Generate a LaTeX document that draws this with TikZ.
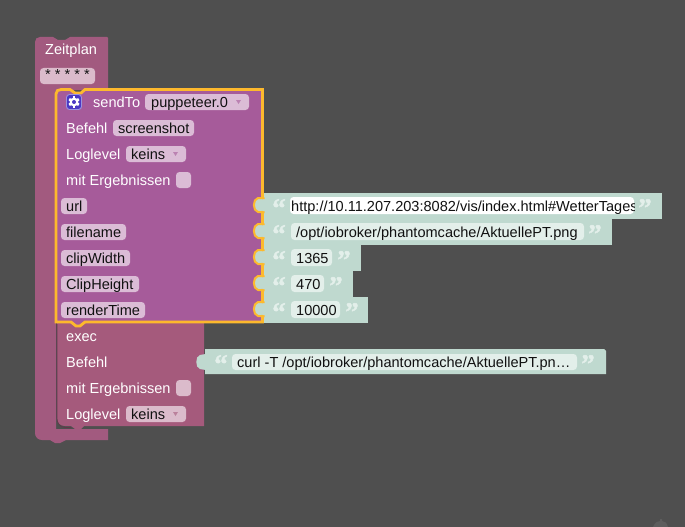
\documentclass[tikz,border=0pt]{standalone}
\usepackage{fontspec}
\setmainfont{Liberation Sans}
\newfontfamily\quotefont{Liberation Serif}[BoldFont={Liberation Serif Bold},BoldFeatures={FakeBold=1.6}]
\definecolor{bgc}{HTML}{4F4F4F}
\definecolor{zeitc}{HTML}{A25A7F}
\definecolor{sendc}{HTML}{A65B9A}
\definecolor{execc}{HTML}{A55A7C}
\definecolor{strc}{HTML}{BFD9CF}
\definecolor{hil}{HTML}{FDB92D}
\definecolor{pillp}{HTML}{DBBCD6}
\definecolor{pillr}{HTML}{DBBBCB}
\definecolor{fieldc}{HTML}{E3EFEA}
\definecolor{inkc}{HTML}{111111}
\definecolor{iconc}{HTML}{4A38C4}
\tikzset{
  lab/.style={anchor=base west,inner sep=0,text=white,font=\fontsize{14.55}{16}\selectfont},
  val/.style={anchor=base west,inner sep=0,text=inkc,font=\fontsize{14.55}{16}\selectfont},
  qt/.style={anchor=base,inner sep=0,text=fieldc,font=\quotefont\bfseries\fontsize{27}{27}\selectfont},
  pillshape/.style={rounded corners=3.5pt,draw=none},
  strblock/.style={fill=strc,draw=none},
  tabh/.style={fill=strc,draw=hil,line width=2pt},
  tabn/.style={fill=strc,draw=none},
}
\newcommand{\strrow}[4]{% x right, y top, y bottom, name
  \fill[strblock] (264,#2) rectangle (#1,#3);
  \path[tabh] (264.5,{#2+5}) .. controls (261,{#2+6}) and (260,{#2+4}) .. (258,{#2+5})
     .. controls (252.5,{#2+6}) and (252.5,{#2+18}) .. (258,{#2+19})
     .. controls (260,{#2+20}) and (261,{#2+18}) .. (264.5,{#2+19.5});
}
\newcommand{\qopen}[3]{\node[qt] (#3) at (#1,{#2+24}) {“};}
\newcommand{\qclose}[3]{\node[qt] (#3) at (#1,{#2+24}) {”};}
\begin{document}
\begin{tikzpicture}[x=1pt,y=-1pt]
\useasboundingbox (0,0) rectangle (685,527);
\fill[bgc] (0,0) rectangle (685,527);
% faint trash lid
\fill[bgc!92!white] (653,527) .. controls (655,522) and (658,521) .. (660,521) -- (660,519) -- (662,519) -- (662,521) .. controls (665,521) and (667,523) .. (668,527) -- cycle;
% Zeitplan
\fill[zeitc] (35,42) .. controls (35,39) and (37,37) .. (40,37) -- (53,37) -- (58,40) -- (65,40) -- (70,37)
  -- (107,37) -- (108,38) -- (108,90) -- (56,90) -- (56,429) -- (108,429) -- (108,440) -- (66,440) -- (60,443) -- (55,443) -- (50,440) -- (42,440)
  .. controls (38,440) and (35,437) .. (35,433) -- cycle;
\node[lab] (zeit) at (45,55) {Zeitplan};
\fill[pillr,pillshape] (40,68) rectangle (95,84);
\node[val] (cron) at (45,79) {* * * * *};
% exec
\fill[execc] (57,320) -- (204,320) -- (204,426) -- (84,426) -- (81,429) -- (75,429) -- (71,426) -- (65,426)
  .. controls (60,426) and (57,423) .. (57,418) -- cycle;
\draw[black!40!execc,line width=0.6pt] (57,324) -- (57,418) .. controls (57,423) and (60,427.5) .. (65,427.5) -- (71,427.5);
\node[lab] (exec) at (66,341) {exec};
\node[lab] (befehlb) at (66,367) {Befehl};
\node[lab] (mitb) at (66,393) {mit Ergebnissen};
\fill[pillr,pillshape] (176,380) rectangle (191,396);
\node[lab] (logb) at (66,419) {Loglevel};
\fill[pillr,pillshape] (126,406) rectangle (186,422);
\node[val] (keinsb) at (131,419) {keins};
\fill[execc!60!pillr] (173,412) -- (178,412) -- (175.5,416) -- cycle;
% sendTo
\path[fill=sendc,draw=hil,line width=2.8pt,line join=miter]
  (56,94) .. controls (56,91) and (58,89.5) .. (61,89.5) -- (70,89.5) -- (75,93) -- (81,93) -- (85,89.5) -- (262.5,89.5)
  -- (262.5,322) -- (85,322) -- (80,326) -- (76,326) -- (71,322) -- (56,322) -- cycle;
\node[lab] (send) at (93,107) {sendTo};
\fill[pillp,pillshape] (145,94) rectangle (249,110);
\node[val] (pup) at (151,107) {puppeteer.0};
\fill[sendc!60!pillp] (236,100) -- (241,100) -- (238.5,104) -- cycle;
% gear icon
\filldraw[fill=iconc,draw=iconc!55!white,line width=0.9pt,rounded corners=3pt] (66.5,94.5) rectangle (81.5,109.5);
\fill[white] (74,102) circle (4.4pt);
\foreach \a in {0,60,...,300} {\fill[white,rotate around={\a:(74,102)}] (72.7,96.4) rectangle (75.3,99);}
\fill[iconc] (74,102) circle (2pt);
\node[lab] (befehl) at (66,133) {Befehl};
\fill[pillp,pillshape] (113,120) rectangle (194,136);
\node[val] (shot) at (118,133) {screenshot};
\node[lab] (log) at (66,159) {Loglevel};
\fill[pillp,pillshape] (126,146) rectangle (186,162);
\node[val] (keins) at (131,159) {keins};
\fill[sendc!60!pillp] (173,152) -- (178,152) -- (175.5,156) -- cycle;
\node[lab] (mit) at (66,185) {mit Ergebnissen};
\fill[pillp,pillshape] (176,172) rectangle (191,188);
% argument labels
\fill[pillp,pillshape] (61,198) rectangle (87,214);
\node[val] (url) at (66,211) {url};
\fill[pillp,pillshape] (61,224) rectangle (126,240);
\node[val] (fname) at (66,237) {filename};
\fill[pillp,pillshape] (61,250) rectangle (130,266);
\node[val] (cw) at (66,263) {clipWidth};
\fill[pillp,pillshape] (61,276) rectangle (139,292);
\node[val] (ch) at (66,289) {ClipHeight};
\fill[pillp,pillshape] (61,302) rectangle (145,318);
\node[val] (rt) at (66,315) {renderTime};
% string blocks
\strrow{662}{193}{219}{s1}
\strrow{612}{219}{245}{s2}
\strrow{361}{245}{271}{s3}
\strrow{353}{271}{297}{s4}
\strrow{368}{297}{323}{s5}
\fill[hil] (262,321) rectangle (264,323.4);
% fields
\fill[white,rounded corners=3.5pt] (290,197) rectangle (634,214);
\begin{scope}
\clip (290,197) rectangle (634,214);
\node[val] (urlv) at (291,211) {http://10.11.207.203:8082/vis/index.html\#WetterTages};
\end{scope}
\fill[fieldc,pillshape] (291,223) rectangle (584,240);
\node[val] (fv) at (296,237) {/opt/iobroker/phantomcache/AktuellePT.png};
\fill[fieldc,pillshape] (291,249) rectangle (332,266);
\node[val] (cwv) at (296,263) {1365};
\fill[fieldc,pillshape] (291,275) rectangle (324,292);
\node[val] (chv) at (296,289) {470};
\fill[fieldc,pillshape] (291,301) rectangle (340,318);
\node[val] (rtv) at (296,315) {10000};
\qopen{279}{193}{qa}\qclose{645}{193}{qb}
\qopen{279}{219}{qc}\qclose{595}{219}{qd}
\qopen{279}{245}{qe}\qclose{344}{245}{qf}
\qopen{279}{271}{qg}\qclose{336}{271}{qh}
\qopen{279}{297}{qi}\qclose{352}{297}{qj}
% exec string
\path[tabn] (206,354) .. controls (203,355) and (202,354) .. (200,355) .. controls (195,356) and (195,368) .. (200,369) .. controls (202,370) and (203,369) .. (206,370) -- cycle;
\fill[strblock] (205,349) -- (604,349) -- (606,351) -- (606,374) -- (205,374) -- cycle;
\fill[fieldc,pillshape] (232,354) rectangle (577,370);
\node[val] (curl) at (237,367) {curl -T /opt/iobroker/phantomcache/AktuellePT.pn…};
\qopen{221}{349}{qk}\qclose{588}{349}{ql}
\end{tikzpicture}
\end{document}
